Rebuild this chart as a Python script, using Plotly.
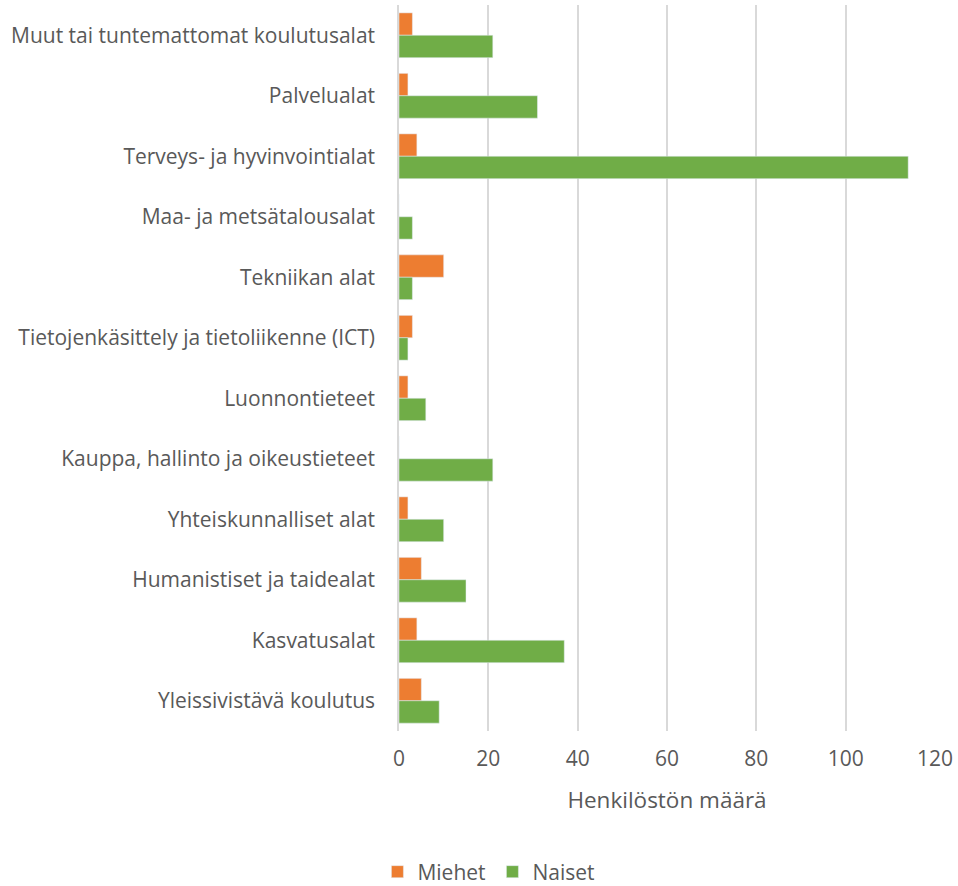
import plotly.graph_objects as go

categories = [
    "Muut tai tuntemattomat koulutusalat",
    "Palvelualat",
    "Terveys- ja hyvinvointialat",
    "Maa- ja metsätalousalat",
    "Tekniikan alat",
    "Tietojenkäsittely ja tietoliikenne (ICT)",
    "Luonnontieteet",
    "Kauppa, hallinto ja oikeustieteet",
    "Yhteiskunnalliset alat",
    "Humanistiset ja taidealat",
    "Kasvatusalat",
    "Yleissivistävä koulutus",
]
miehet = [3, 2, 4, 0, 10, 3, 2, 0, 2, 5, 4, 5]
naiset = [21, 31, 114, 3, 3, 2, 6, 21, 10, 15, 37, 9]
x_ticks = [0, 20, 40, 60, 80, 100, 120]

FONT = "Open Sans"
TXT = "#595959"

fig = go.Figure()
fig.add_trace(go.Bar(y=categories, x=miehet, name="Miehet", orientation="h",
                     marker=dict(color="#ED7D31")))
fig.add_trace(go.Bar(y=categories, x=naiset, name="Naiset", orientation="h",
                     marker=dict(color="#70AD47")))

fig.update_layout(
    width=958, height=886,
    margin=dict(l=399, r=21, t=5, b=155),
    paper_bgcolor="white", plot_bgcolor="white",
    barmode="group", bargap=0.26, bargroupgap=0,
    font=dict(family=FONT, size=18, color=TXT),
    showlegend=True,
    legend=dict(orientation="h", xref="container", yref="container",
                x=0.514, y=1 - 872 / 886, xanchor="center", yanchor="middle",
                font=dict(size=21, color=TXT), itemwidth=30,
                entrywidth=70, entrywidthmode="pixels",
                traceorder="normal"),
    xaxis=dict(range=[0, 120], tickvals=x_ticks, showgrid=True,
               gridcolor="#D9D9D9", gridwidth=1.5, zeroline=False,
               showline=False, ticks="", ticklabelstandoff=13,
               tickfont=dict(size=21, color=TXT),
               title=dict(text="Henkilöstön määrä", standoff=21,
                          font=dict(size=22.5, color=TXT))),
    yaxis=dict(autorange="reversed", showgrid=False, zeroline=False,
               showline=True, linecolor="#D9D9D9", linewidth=1.5,
               ticks="", ticklabelstandoff=18,
               tickfont=dict(size=21, color=TXT)),
)

fig.write_html("out.html")
